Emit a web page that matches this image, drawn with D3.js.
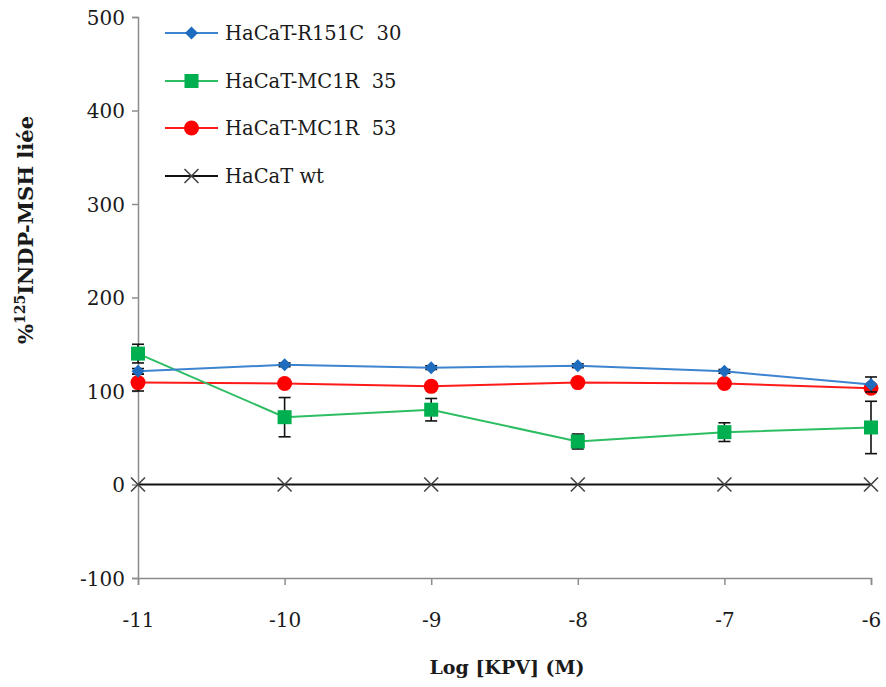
<!DOCTYPE html>
<html><head><meta charset="utf-8">
<script src="https://cdn.jsdelivr.net/npm/d3@7"></script>
<style>body{margin:0;background:#fff}svg{display:block}</style>
</head><body><svg id="c" width="886" height="687"></svg>
<script>
const xValues = [-11, -10, -9, -8, -7, -6];
const seriesNames = ["HaCaT-R151C  30", "HaCaT-MC1R  35", "HaCaT-MC1R  53", "HaCaT wt"];
const r151c30 = [121, 128, 125, 127, 121, 107];
const r151c30Err = [3, 2, 2, 2, 2, 8];
const mc1r35 = [140, 72, 80, 46, 56, 61];
const mc1r35Err = [10, 21, 12, 8, 10, 28];
const mc1r53 = [109, 108, 105, 109, 108, 103];
const mc1r53Err = [9, 2, 2, 2, 2, 3];
const wt = [0, 0, 0, 0, 0, 0];
const yTicks = [-100, 0, 100, 200, 300, 400, 500];
const xTicks = [-11, -10, -9, -8, -7, -6];

const svg = d3.select("#c");
const x = d3.scaleLinear().domain([-11, -6]).range([138, 871]);
const y = d3.scaleLinear().domain([-100, 500]).range([578, 17]);
const serif = "'DejaVu Serif', serif";
const fmt = d => String(d);

// axes
const yAxis = d3.axisLeft(y).tickValues(yTicks).tickSize(6).tickPadding(7).tickFormat(fmt);
const gy = svg.append("g").attr("transform", "translate(138,0)").call(yAxis);
const xAxis = d3.axisBottom(x).tickValues(xTicks).tickSize(7).tickPadding(35).tickFormat(fmt);
const gx = svg.append("g").attr("transform", "translate(0,578)").call(xAxis);
[gy, gx].forEach(g => {
  g.select(".domain").attr("stroke", "#8c8c8c").attr("stroke-width", 1.5);
  g.selectAll(".tick line").attr("stroke", "#8c8c8c").attr("stroke-width", 1.5);
  g.selectAll(".tick text").attr("fill", "#1a1a1a").style("font-family", serif).style("font-size", "20px");
});
gy.selectAll(".tick text").attr("dy", "0.35em");
gx.selectAll(".tick text").attr("dy", "0.35em");

// axis titles
svg.append("text").attr("x", 507).attr("y", 674).attr("text-anchor", "middle")
  .style("font-family", serif).style("font-size", "19px").style("font-weight", "bold").attr("fill", "#1a1a1a")
  .text("Log [KPV] (M)");
const yl = svg.append("text").attr("transform", "translate(33,230) rotate(-90)").attr("text-anchor", "middle")
  .style("font-family", serif).style("font-size", "21px").style("font-weight", "bold").attr("fill", "#1a1a1a");
yl.append("tspan").text("%");
yl.append("tspan").attr("dy", "-8").style("font-size", "14px").text("125");
yl.append("tspan").attr("dy", "8").text("INDP-MSH liée");

const series = [
  {name: seriesNames[0], vals: r151c30, err: r151c30Err, line: "#3C84CF", fill: "#1F6CBF", marker: "diamond"},
  {name: seriesNames[1], vals: mc1r35, err: mc1r35Err, line: "#2DBE63", fill: "#00B050", marker: "square"},
  {name: seriesNames[2], vals: mc1r53, err: mc1r53Err, line: "#FF1A1A", fill: "#FF0000", marker: "circle"},
  {name: seriesNames[3], vals: wt, err: null, line: "#111111", fill: "#444", marker: "x"}
];

function drawMarker(g, type, cx, cy, s) {
  if (type === "diamond") {
    const r = 6.5;
    g.append("path").attr("d", `M${cx},${cy-r}L${cx+r},${cy}L${cx},${cy+r}L${cx-r},${cy}Z`).attr("fill", s.fill);
  } else if (type === "square") {
    g.append("rect").attr("x", cx - 7).attr("y", cy - 7).attr("width", 14).attr("height", 14).attr("fill", s.fill);
  } else if (type === "circle") {
    g.append("circle").attr("cx", cx).attr("cy", cy).attr("r", 7.5).attr("fill", s.fill);
  } else {
    g.append("path").attr("d", `M${cx-7},${cy-7}L${cx+7},${cy+7}M${cx-7},${cy+7}L${cx+7},${cy-7}`).attr("stroke", "#444").attr("stroke-width", 1.6);
  }
}

const line = d3.line().x((d, i) => x(xValues[i])).y(d => y(d));
const order = [3, 2, 1, 0];
order.forEach(k => {
  const s = series[k];
  const g = svg.append("g");
  if (s.err) {
    s.vals.forEach((v, i) => {
      const cx = x(xValues[i]);
      const y1 = y(v + s.err[i]), y2 = y(v - s.err[i]);
      g.append("line").attr("x1", cx).attr("x2", cx).attr("y1", y1).attr("y2", y2).attr("stroke", "#111").attr("stroke-width", 1.6);
      [y1, y2].forEach(yy => g.append("line").attr("x1", cx - 6).attr("x2", cx + 6).attr("y1", yy).attr("y2", yy).attr("stroke", "#111").attr("stroke-width", 1.6));
    });
  }
  g.append("path").datum(s.vals).attr("d", line).attr("fill", "none").attr("stroke", s.line).attr("stroke-width", 2);
  s.vals.forEach((v, i) => drawMarker(g, s.marker, x(xValues[i]), y(v), s));
});

// legend
const legY = [33, 81, 128, 176];
series.forEach((s, k) => {
  const g = svg.append("g");
  g.append("line").attr("x1", 165).attr("x2", 218).attr("y1", legY[k]).attr("y2", legY[k]).attr("stroke", s.line).attr("stroke-width", 2);
  drawMarker(g, s.marker, 191.5, legY[k], s);
  g.append("text").attr("x", 225).attr("y", legY[k]).attr("dy", "0.35em")
    .style("font-family", serif).style("font-size", "19.5px").attr("fill", "#1a1a1a").style("white-space", "pre").text(s.name);
});
</script></body></html>
